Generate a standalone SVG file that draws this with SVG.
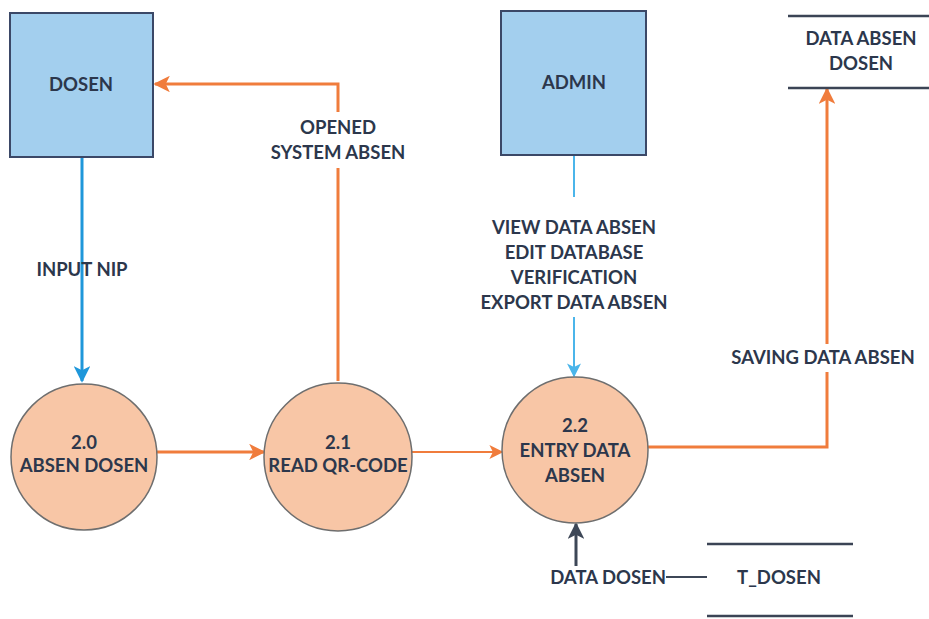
<svg xmlns="http://www.w3.org/2000/svg" width="929" height="619" viewBox="0 0 929 619">
  <defs>
    <marker id="ahOrange" viewBox="0 0 10 10" refX="9" refY="5" markerWidth="5.5" markerHeight="5.5" orient="auto" markerUnits="strokeWidth">
      <path d="M0,0 L10,5 L0,10 L2.5,5 Z" fill="#F07C3C"/>
    </marker>
    <marker id="ahBlue" viewBox="0 0 10 10" refX="9" refY="5" markerWidth="5.5" markerHeight="5.5" orient="auto" markerUnits="strokeWidth">
      <path d="M0,0 L10,5 L0,10 L2.5,5 Z" fill="#1F97DA"/>
    </marker>
    <marker id="ahLight" viewBox="0 0 10 10" refX="9" refY="5" markerWidth="7" markerHeight="7" orient="auto" markerUnits="strokeWidth">
      <path d="M0,0 L10,5 L0,10 L2.5,5 Z" fill="#4BB5EA"/>
    </marker>
    <marker id="ahThin" viewBox="0 0 10 10" refX="9" refY="5" markerWidth="7" markerHeight="7" orient="auto" markerUnits="strokeWidth">
      <path d="M0,0 L10,5 L0,10 L2.5,5 Z" fill="#F07C3C"/>
    </marker>
    <marker id="ahDark" viewBox="0 0 10 10" refX="9" refY="5" markerWidth="5.5" markerHeight="5.5" orient="auto" markerUnits="strokeWidth">
      <path d="M0,0 L10,5 L0,10 L2.5,5 Z" fill="#3D4757"/>
    </marker>
  </defs>
  <style>
    text { font-family: "Lato", "Liberation Sans", sans-serif; font-weight: bold; font-size: 18.5px; fill: #2C374C; text-anchor: middle; }
    .entity { fill: #A3CFEE; stroke: #3B4867; stroke-width: 2; }
    .process { fill: #F8C6A6; stroke: #6E6E6E; stroke-width: 1.5; }
    .store { stroke: #3B4455; stroke-width: 2.5; }
    .flow { fill: none; stroke: #F07C3C; stroke-width: 3; }
    .thin { fill: none; stroke: #F07C3C; stroke-width: 2; }
  </style>
  <rect width="929" height="619" fill="#FFFFFF"/>

  <!-- connectors -->
  <g id="connectors">
    <line class="flow" x1="82" y1="157" x2="82" y2="381" style="stroke:#1F97DA" marker-end="url(#ahBlue)"/>
    <line class="flow" x1="155" y1="452" x2="264" y2="452" marker-end="url(#ahOrange)"/>
    <path class="flow" d="M338,381 V168 M338,112 V84 H155" marker-end="url(#ahOrange)"/>
    <line class="thin" x1="412" y1="452" x2="502" y2="452" marker-end="url(#ahThin)"/>
    <path d="M574,155 V197 M574,317 V376" fill="none" stroke="#4BB5EA" stroke-width="2" marker-end="url(#ahLight)"/>
    <path class="flow" d="M648,447 H827 V372 M827,344 V89" marker-end="url(#ahOrange)"/>
    <line x1="576" y1="566" x2="576" y2="524" stroke="#3D4757" stroke-width="3" marker-end="url(#ahDark)"/>
    <line x1="666" y1="577" x2="707" y2="577" stroke="#3D4757" stroke-width="2"/>
    <text x="338" y="134">OPENED</text>
    <text x="338" y="159">SYSTEM ABSEN</text>
    <text x="82" y="276">INPUT NIP</text>
    <text x="574" y="234">VIEW DATA ABSEN</text>
    <text x="574" y="259">EDIT DATABASE</text>
    <text x="574" y="284">VERIFICATION</text>
    <text x="574" y="309">EXPORT DATA ABSEN</text>
    <text x="823" y="364">SAVING DATA ABSEN</text>
    <text x="666" y="584" style="text-anchor:end">DATA DOSEN</text>
  </g>

  <!-- external entities -->
  <g id="dosen">
    <rect class="entity" x="10" y="13" width="143" height="144"/>
    <text x="81" y="91">DOSEN</text>
  </g>
  <g id="admin">
    <rect class="entity" x="501" y="11" width="145" height="144"/>
    <text x="574" y="89">ADMIN</text>
  </g>

  <!-- processes -->
  <g id="p20">
    <circle class="process" cx="84" cy="457" r="73"/>
    <text x="84" y="449">2.0</text>
    <text x="84" y="472">ABSEN DOSEN</text>
  </g>
  <g id="p21">
    <circle class="process" cx="338" cy="457" r="74"/>
    <text x="338" y="449">2.1</text>
    <text x="338" y="472">READ QR-CODE</text>
  </g>
  <g id="p22">
    <circle class="process" cx="575" cy="450" r="73"/>
    <text x="575" y="432">2.2</text>
    <text x="575" y="457">ENTRY DATA</text>
    <text x="575" y="482">ABSEN</text>
  </g>

  <!-- data stores -->
  <g id="store-data-absen-dosen">
    <line class="store" x1="788" y1="16" x2="929" y2="16"/>
    <line class="store" x1="788" y1="88" x2="929" y2="88"/>
    <text x="861" y="45">DATA ABSEN</text>
    <text x="861" y="70">DOSEN</text>
  </g>
  <g id="store-t-dosen">
    <line class="store" x1="707" y1="544" x2="853" y2="544"/>
    <line class="store" x1="707" y1="616" x2="853" y2="616"/>
    <text x="779" y="584">T_DOSEN</text>
  </g>
</svg>
